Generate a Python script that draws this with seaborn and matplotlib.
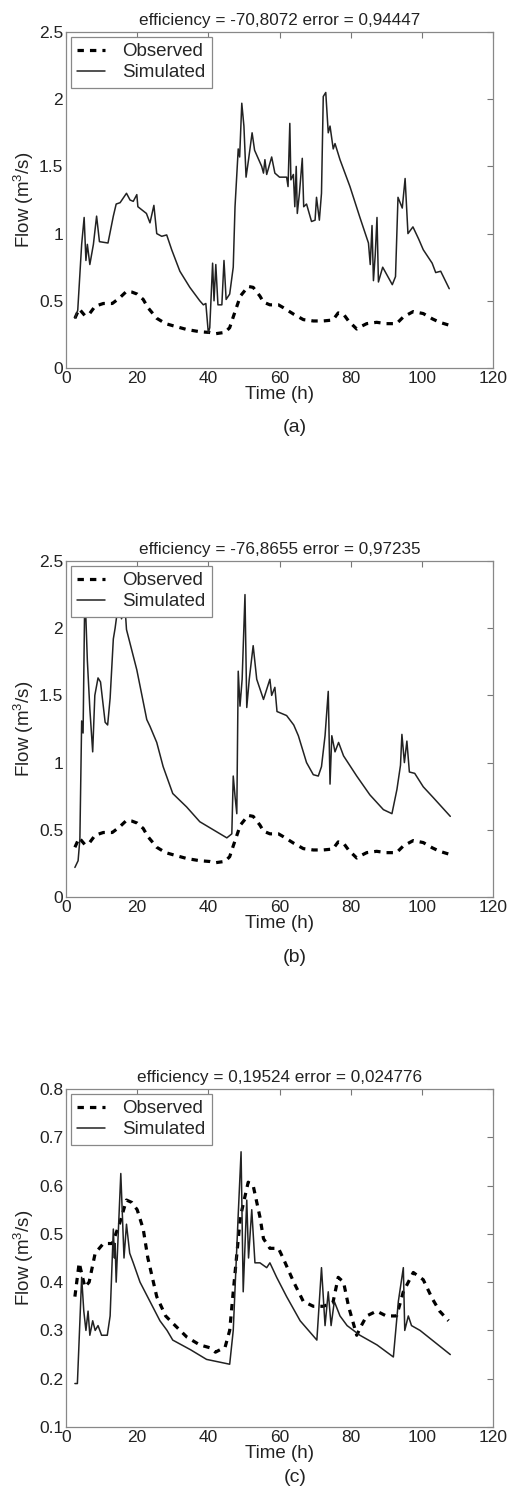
import numpy as np
import pandas as pd
import seaborn as sns
import matplotlib
matplotlib.use("Agg")
import matplotlib.pyplot as plt
from matplotlib.ticker import FuncFormatter

# observed flow (same in all three panels)
obs_t = [2.5, 3.7, 5.3, 6.5, 8.2, 10.5, 13, 15, 17, 18.5, 20, 21.7, 23, 25.5, 28, 30,
         34, 37.6, 40.5, 42, 43.3, 44.7, 46, 47, 49, 51.2, 52.6, 54.5, 55.5, 57.3,
         59.7, 61, 64, 66.7, 69.5, 72.3, 75, 76.5, 78, 79.4, 81.7, 83, 84.5, 87.3,
         90, 92.9, 94.8, 97.6, 100.4, 103, 105, 107.5]
obs_q = [0.37, 0.44, 0.39, 0.40, 0.46, 0.48, 0.48, 0.52, 0.57, 0.565, 0.55, 0.51,
         0.45, 0.37, 0.33, 0.315, 0.286, 0.27, 0.264, 0.255, 0.26, 0.265, 0.30,
         0.38, 0.535, 0.607, 0.60, 0.535, 0.49, 0.47, 0.47, 0.45, 0.40, 0.36, 0.35,
         0.35, 0.357, 0.41, 0.40, 0.35, 0.29, 0.31, 0.33, 0.34, 0.33, 0.33, 0.38,
         0.42, 0.405, 0.365, 0.34, 0.32]

# simulated flow, panel (a)
sim_a_t = [2.5, 3.3, 4.4, 5.1, 5.6, 6.0, 6.7, 7.7, 8.6, 9.4, 11.8, 13.3, 14.1, 15.2,
           17.0, 18.0, 18.9, 19.9, 20.2, 22.6, 23.6, 24.7, 25.5, 26.9, 28.3, 29.7,
           32.0, 34.8, 37.6, 38.6, 39.3, 40.0, 40.4, 41.2, 41.6, 42.1, 42.7, 43.8,
           44.4, 45.0, 46.0, 47.0, 47.5, 48.4, 48.8, 49.4, 50.0, 50.6, 51.3, 52.3,
           53.0, 55.0, 55.5, 55.9, 56.4, 57.8, 58.7, 60.0, 62.0, 62.4, 62.9, 63.2,
           63.9, 64.3, 64.7, 65.0, 65.6, 66.4, 66.8, 67.6, 69.0, 70.0, 70.4, 71.2,
           71.8, 72.3, 73.0, 73.7, 74.2, 75.1, 75.6, 77.0, 79.8, 82.6, 85.0, 85.5,
           86.0, 86.4, 86.9, 87.4, 87.8, 89.0, 91.7, 92.6, 93.3, 94.5, 95.3, 96.1,
           97.5, 99.1, 100.4, 102.9, 103.9, 105.3, 107.7]
sim_a_q = [0.37, 0.43, 0.92, 1.12, 0.80, 0.92, 0.77, 0.92, 1.13, 0.94, 0.93, 1.13,
           1.22, 1.23, 1.30, 1.25, 1.24, 1.29, 1.20, 1.15, 1.08, 1.21, 1.00, 0.98,
           0.99, 0.88, 0.72, 0.60, 0.50, 0.47, 0.48, 0.26, 0.30, 0.78, 0.50, 0.77,
           0.47, 0.47, 0.80, 0.51, 0.55, 0.75, 1.20, 1.63, 1.57, 1.97, 1.80, 1.42,
           1.55, 1.75, 1.62, 1.50, 1.45, 1.55, 1.44, 1.57, 1.45, 1.42, 1.42, 1.35,
           1.82, 1.40, 1.44, 1.20, 1.50, 1.15, 1.30, 1.56, 1.20, 1.22, 1.09, 1.10,
           1.27, 1.10, 1.30, 2.02, 2.05, 1.75, 1.80, 1.63, 1.67, 1.55, 1.35, 1.12,
           0.93, 0.77, 1.06, 0.65, 0.84, 1.12, 0.64, 0.75, 0.62, 0.68, 1.27, 1.19,
           1.41, 1.00, 1.05, 0.96, 0.88, 0.78, 0.71, 0.72, 0.59]

# simulated flow, panel (b)
sim_b_t = [2.5, 3.4, 3.9, 4.4, 4.8, 5.3, 6.0, 6.7, 7.5, 8.1, 9.0, 9.7, 11.0, 11.7,
           12.4, 13.3, 13.8, 14.3, 15.0, 15.6, 16.6, 17.0, 19.9, 22.7, 23.6, 25.5,
           27.3, 30.0, 33.9, 37.6, 41.4, 45.2, 46.6, 47.0, 47.5, 48.0, 48.4, 48.9,
           49.5, 50.3, 50.8, 51.5, 52.6, 53.6, 55.5, 57.3, 57.8, 58.7, 59.3, 62.0,
           64.0, 65.3, 67.6, 69.5, 70.9, 71.8, 72.8, 73.7, 74.2, 74.7, 75.6, 76.6,
           78.0, 81.7, 85.4, 89.2, 91.6, 93.0, 94.0, 94.4, 95.1, 95.8, 96.5, 98.0,
           100.4, 103.2, 108.0]
sim_b_q = [0.22, 0.27, 0.43, 1.31, 1.22, 2.30, 1.76, 1.40, 1.08, 1.50, 1.63, 1.60,
           1.30, 1.28, 1.48, 1.92, 2.00, 2.10, 2.20, 2.07, 2.15, 1.99, 1.69, 1.32,
           1.27, 1.15, 0.97, 0.77, 0.67, 0.56, 0.50, 0.44, 0.47, 0.90, 0.75, 0.62,
           1.68, 1.42, 1.62, 2.25, 1.41, 1.62, 1.87, 1.62, 1.47, 1.62, 1.50, 1.56,
           1.38, 1.35, 1.28, 1.20, 1.00, 0.91, 0.90, 0.97, 1.20, 1.53, 0.84, 1.20,
           1.08, 1.15, 1.05, 0.90, 0.76, 0.65, 0.62, 0.80, 0.98, 1.21, 1.00, 1.16,
           0.93, 0.92, 0.82, 0.74, 0.60]

# simulated flow, panel (c)
sim_c_t = [2.5, 3.2, 3.8, 4.4, 5.0, 5.6, 6.2, 6.7, 7.5, 8.2, 9.0, 10.0, 11.6, 12.4,
           13.3, 13.6, 13.8, 14.1, 15.4, 16.3, 17.0, 17.9, 18.9, 20.8, 23.6, 26.4,
           28.4, 30.0, 35.0, 39.5, 46.0, 47.0, 48.4, 49.2, 49.8, 50.8, 51.3, 52.2,
           53.1, 54.5, 56.4, 57.3, 59.2, 62.0, 65.8, 70.5, 71.8, 72.8, 73.7, 74.5,
           75.4, 77.0, 79.0, 82.6, 87.4, 92.0, 93.4, 94.8, 95.2, 96.2, 97.1, 99.5,
           108.0]
sim_c_q = [0.19, 0.19, 0.30, 0.41, 0.34, 0.30, 0.34, 0.29, 0.32, 0.30, 0.31, 0.29,
           0.29, 0.33, 0.51, 0.45, 0.48, 0.40, 0.625, 0.45, 0.52, 0.46, 0.44, 0.40,
           0.36, 0.32, 0.30, 0.28, 0.26, 0.24, 0.23, 0.30, 0.54, 0.67, 0.38, 0.57,
           0.45, 0.55, 0.44, 0.44, 0.43, 0.44, 0.41, 0.37, 0.32, 0.28, 0.43, 0.31,
           0.38, 0.31, 0.36, 0.33, 0.31, 0.29, 0.27, 0.245, 0.36, 0.43, 0.30, 0.33,
           0.31, 0.30, 0.25]

titles = ["efficiency = -70,8072 error = 0,94447",
          "efficiency = -76,8655 error = 0,97235",
          "efficiency = 0,19524 error = 0,024776"]
tags = ["(a)", "(b)", "(c)"]
ylims = [(0, 2.5), (0, 2.5), (0.1, 0.8)]
yticks = [np.arange(0, 2.51, 0.5), np.arange(0, 2.51, 0.5), np.arange(0.1, 0.81, 0.1)]
sims = [(sim_a_t, sim_a_q), (sim_b_t, sim_b_q), (sim_c_t, sim_c_q)]

sns.set_style("white")
plt.rcParams['font.family'] = ['Liberation Sans', 'DejaVu Sans']
plt.rcParams['mathtext.fontset'] = 'custom'
plt.rcParams['mathtext.rm'] = 'Liberation Sans'

W, H = 513, 1488
fig = plt.figure(figsize=(W / 100, H / 100), dpi=100)

# axes boxes in pixels: (top, bottom)
boxes = [(32, 368), (561, 897), (1089, 1427)]
tag_y = [428, 957, 1477]
left, right = 66, 493
dash = (0, (2.0, 1.9))

for k in range(3):
    top, bot = boxes[k]
    ax = fig.add_axes([left / W, 1 - bot / H, (right - left) / W, (bot - top) / H])
    st, sq = sims[k]
    sns.lineplot(x=obs_t, y=obs_q, ax=ax, color='black', linestyle=dash, lw=2.3,
                 estimator=None, label='Observed')
    sns.lineplot(x=st, y=sq, ax=ax, color='#222222', lw=1.1, estimator=None,
                 label='Simulated')

    ax.set_xlim(0, 120)
    ax.set_ylim(*ylims[k])
    ax.set_xticks(np.arange(0, 121, 20))
    ax.set_yticks(yticks[k])
    ax.yaxis.set_major_formatter(FuncFormatter(lambda v, p: f"{v:g}"))
    ax.tick_params(direction='in', length=4, width=0.8, color='#777777',
                   top=True, right=True, labelsize=12.5, pad=2, labelcolor='#222222')
    for sp in ax.spines.values():
        sp.set_color('#888888')
        sp.set_linewidth(0.9)
    ax.set_xlabel('Time (h)', fontsize=13.5, labelpad=0, color='#222222')
    ax.set_ylabel('Flow (m$^3$/s)', fontsize=13.5, labelpad=2, color='#222222')
    ax.set_title(titles[k], fontsize=12.3, pad=5, color='#222222')

    leg = ax.legend(loc='upper left', fontsize=13.5, frameon=True, fancybox=False,
                    borderaxespad=0.25, handlelength=1.5, handletextpad=0.9,
                    labelspacing=0.2, borderpad=0.35, framealpha=1)
    leg.get_frame().set_edgecolor('#888888')
    leg.get_frame().set_linewidth(0.9)
    for h in leg.get_lines():
        if h.get_label() == 'Observed':
            h.set_linestyle(dash)

    fig.text(295 / W, 1 - tag_y[k] / H, tags[k], ha='center', va='center',
             fontsize=14, color='#222222')

fig.savefig('out.png', dpi=100)
